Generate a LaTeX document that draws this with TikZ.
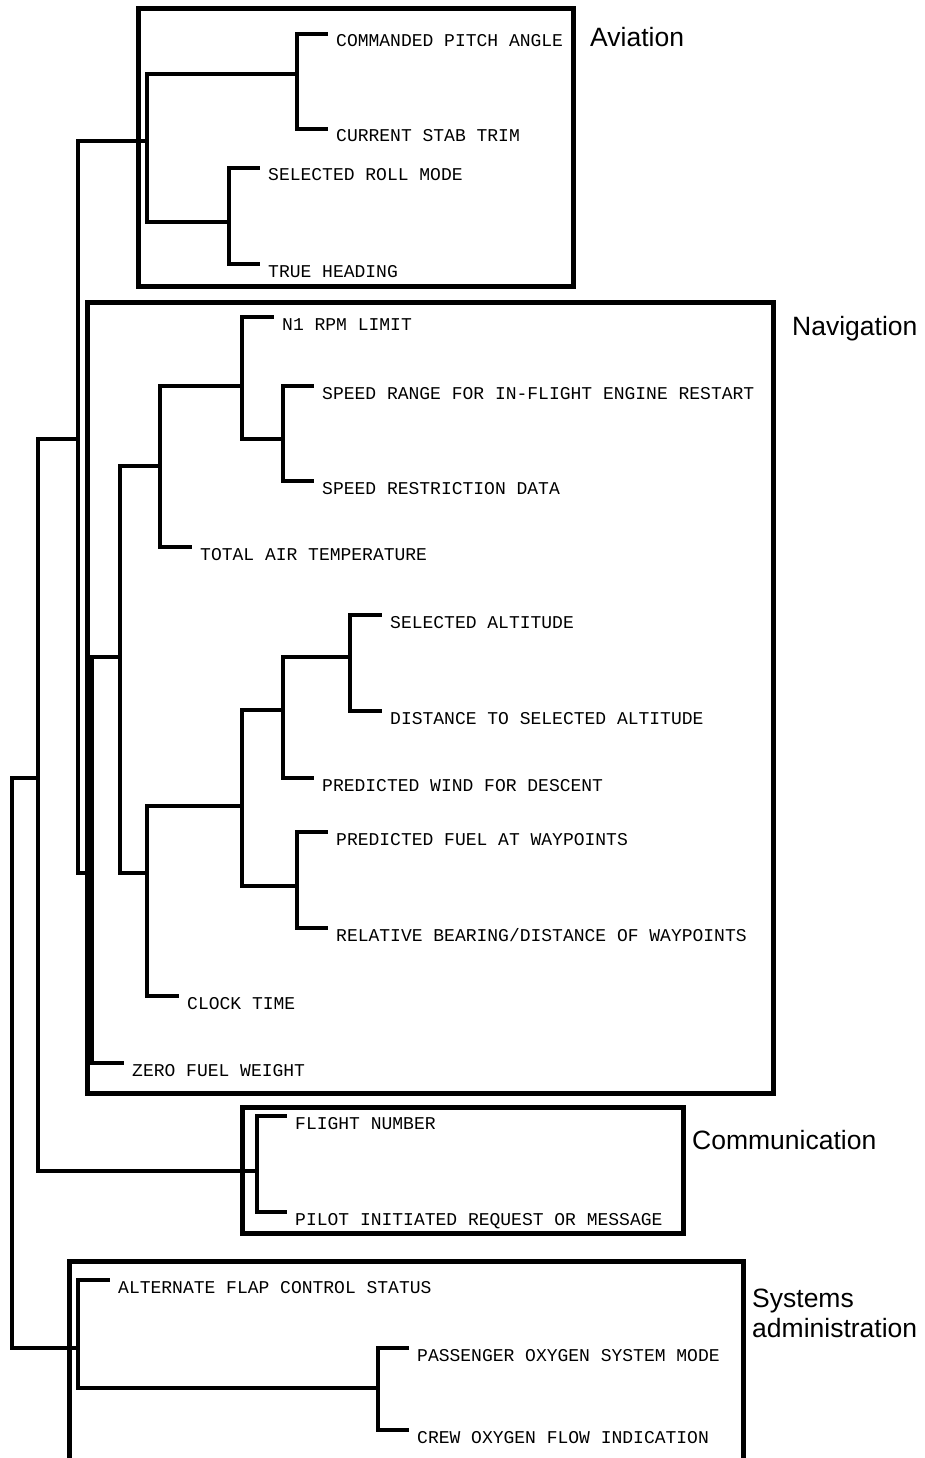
\documentclass[tikz,border=0pt]{standalone}
\usepackage{fontspec}
\setmonofont{Liberation Mono}
\newfontfamily\labfont{Liberation Sans}
\begin{document}
\begin{tikzpicture}[x=1pt,y=-1pt,
  tree/.style={line width=3.2pt, line cap=rect},
  box/.style={line width=5pt},
  leaf/.style={anchor=base west, inner sep=0pt, font=\fontsize{18}{20}\selectfont\ttfamily},
  grp/.style={anchor=base west, inner sep=0pt, align=left, font=\fontsize{26.5}{30}\selectfont\labfont}]
\useasboundingbox (0,0) rectangle (925,1458);

% ---------- group boxes ----------
\draw[box] (138,9) rectangle (573,286);
\draw[box] (87,302) rectangle (773,1093);
\draw[box] (242,1107) rectangle (683,1233);
\draw[box] (69,1261) rectangle (743,1460);

\node[grp] (gAv) at (590,47) {Aviation};
\node[grp] (gNav) at (792,335) {Navigation};
\node[grp] (gCom) at (692,1149) {Communication};
\node[grp] (gSys) at (752,1337) {Systems\\administration};

% ---------- leaves: start (vertical), end, text ----------
% Aviation
\coordinate (a1) at (297,34);  \coordinate (a1e) at (326,34);
\coordinate (a2) at (297,129); \coordinate (a2e) at (326,129);
\coordinate (a3) at (229,168); \coordinate (a3e) at (258,168);
\coordinate (a4) at (229,264); \coordinate (a4e) at (258,264);
% Navigation
\coordinate (n1) at (242,317);  \coordinate (n1e) at (272,317);
\coordinate (n2) at (283,386);  \coordinate (n2e) at (312,386);
\coordinate (n3) at (283,481);  \coordinate (n3e) at (312,481);
\coordinate (n4) at (160,547);  \coordinate (n4e) at (190,547);
\coordinate (n5) at (350,615);  \coordinate (n5e) at (380,615);
\coordinate (n6) at (350,711);  \coordinate (n6e) at (380,711);
\coordinate (n7) at (283,778);  \coordinate (n7e) at (312,778);
\coordinate (n8) at (297,832);  \coordinate (n8e) at (326,832);
\coordinate (n9) at (297,928);  \coordinate (n9e) at (326,928);
\coordinate (n10) at (147,996); \coordinate (n10e) at (177,996);
\coordinate (n11) at (92,1063); \coordinate (n11e) at (122,1063);
% Communication
\coordinate (c1) at (257,1116); \coordinate (c1e) at (285,1116);
\coordinate (c2) at (257,1212); \coordinate (c2e) at (285,1212);
% Systems
\coordinate (s1) at (78,1280);  \coordinate (s1e) at (108,1280);
\coordinate (s2) at (378,1348); \coordinate (s2e) at (407,1348);
\coordinate (s3) at (378,1430); \coordinate (s3e) at (407,1430);

\foreach \k in {a1,a2,a3,a4,n1,n2,n3,n4,n5,n6,n7,n8,n9,n10,n11,c1,c2,s1,s2,s3}
  \draw[tree] (\k) -- (\k e);

\node[leaf] (ta1) at ([shift={(10,13)}]a1e) {COMMANDED PITCH ANGLE};
\node[leaf] (ta2) at ([shift={(10,13)}]a2e) {CURRENT STAB TRIM};
\node[leaf] (ta3) at ([shift={(10,13)}]a3e) {SELECTED ROLL MODE};
\node[leaf] (ta4) at ([shift={(10,13)}]a4e) {TRUE HEADING};
\node[leaf] (tn1) at ([shift={(10,13)}]n1e) {N1 RPM LIMIT};
\node[leaf] (tn2) at ([shift={(10,13)}]n2e) {SPEED RANGE FOR IN-FLIGHT ENGINE RESTART};
\node[leaf] (tn3) at ([shift={(10,13)}]n3e) {SPEED RESTRICTION DATA};
\node[leaf] (tn4) at ([shift={(10,13)}]n4e) {TOTAL AIR TEMPERATURE};
\node[leaf] (tn5) at ([shift={(10,13)}]n5e) {SELECTED ALTITUDE};
\node[leaf] (tn6) at ([shift={(10,13)}]n6e) {DISTANCE TO SELECTED ALTITUDE};
\node[leaf] (tn7) at ([shift={(10,13)}]n7e) {PREDICTED WIND FOR DESCENT};
\node[leaf] (tn8) at ([shift={(10,13)}]n8e) {PREDICTED FUEL AT WAYPOINTS};
\node[leaf] (tn9) at ([shift={(10,13)}]n9e) {RELATIVE BEARING/DISTANCE OF WAYPOINTS};
\node[leaf] (tn10) at ([shift={(10,13)}]n10e) {CLOCK TIME};
\node[leaf] (tn11) at ([shift={(10,13)}]n11e) {ZERO FUEL WEIGHT};
\node[leaf] (tc1) at ([shift={(10,13)}]c1e) {FLIGHT NUMBER};
\node[leaf] (tc2) at ([shift={(10,13)}]c2e) {PILOT INITIATED REQUEST OR MESSAGE};
\node[leaf] (ts1) at ([shift={(10,13)}]s1e) {ALTERNATE FLAP CONTROL STATUS};
\node[leaf] (ts2) at ([shift={(10,13)}]s2e) {PASSENGER OXYGEN SYSTEM MODE};
\node[leaf] (ts3) at ([shift={(10,13)}]s3e) {CREW OXYGEN FLOW INDICATION};

% ---------- internal junctions (join points on each vertical) ----------
% Aviation
\coordinate (A12) at (297,74);
\coordinate (A34) at (229,222);
\coordinate (Ar)  at (147,141);
\draw[tree] (a1) -- (a2);
\draw[tree] (a3) -- (a4);
\draw[tree] (Ar |- A12) -- (Ar |- A34);
\draw[tree] (Ar |- A12) -- (A12);
\draw[tree] (Ar |- A34) -- (A34);

% Navigation upper part
\coordinate (N23) at (283,439);
\coordinate (N123) at (242,386);
\coordinate (N1234) at (160,466);
\draw[tree] (n2) -- (n3);
\draw[tree] (n1) -- (n1 |- N23);
\draw[tree] (n1 |- N23) -- (N23);
\draw[tree] (N1234 |- N123) -- (n4);
\draw[tree] (N1234 |- N123) -- (N123);

% Navigation lower part
\coordinate (N56) at (350,657);
\coordinate (N567) at (283,710);
\coordinate (N89) at (297,886);
\coordinate (N5to9) at (242,806);
\coordinate (Nlow) at (147,873);
\draw[tree] (n5) -- (n6);
\draw[tree] (N567 |- N56) -- (n7);
\draw[tree] (N567 |- N56) -- (N56);
\draw[tree] (n8) -- (n9);
\draw[tree] (N5to9 |- N567) -- (N5to9 |- N89);
\draw[tree] (N5to9 |- N567) -- (N567);
\draw[tree] (N5to9 |- N89) -- (N89);
\draw[tree] (n10 |- N5to9) -- (n10);
\draw[tree] (n10 |- N5to9) -- (N5to9);

% Navigation: x=120 vertical joining upper and lower parts
\coordinate (Nmid) at (120,657);
\draw[tree] (Nmid |- N1234) -- (Nmid |- Nlow);
\draw[tree] (Nmid |- N1234) -- (N1234);
\draw[tree] (Nmid |- Nlow) -- (Nlow);
% Navigation root
\coordinate (Nroot) at (92,873);
\draw[tree] (n11 |- Nmid) -- (n11);
\draw[tree] (n11 |- Nmid) -- (Nmid);

% Communication
\coordinate (Cr) at (257,1171);
\draw[tree] (c1) -- (c2);

% Systems
\coordinate (S23) at (378,1388);
\coordinate (Sr) at (78,1348);
\draw[tree] (s2) -- (s3);
\draw[tree] (s1) -- (s1 |- S23);
\draw[tree] (s1 |- S23) -- (S23);

% ---------- outer levels ----------
\coordinate (O1) at (78,439);   % Aviation + Navigation
\coordinate (O2) at (38,778);   % + Communication
\coordinate (O3) at (12,1348);  % + Systems
\draw[tree] (O1 |- Ar) -- (O1 |- Nroot);
\draw[tree] (O1 |- Ar) -- (Ar);
\draw[tree] (O1 |- Nroot) -- (Nroot);
\draw[tree] (O2 |- O1) -- (O2 |- Cr);
\draw[tree] (O2 |- O1) -- (O1);
\draw[tree] (O2 |- Cr) -- (Cr);
\draw[tree] (O3 |- O2) -- (O3);
\draw[tree] (O3 |- O2) -- (O2);
\draw[tree] (O3) -- (Sr);
\end{tikzpicture}
\end{document}
